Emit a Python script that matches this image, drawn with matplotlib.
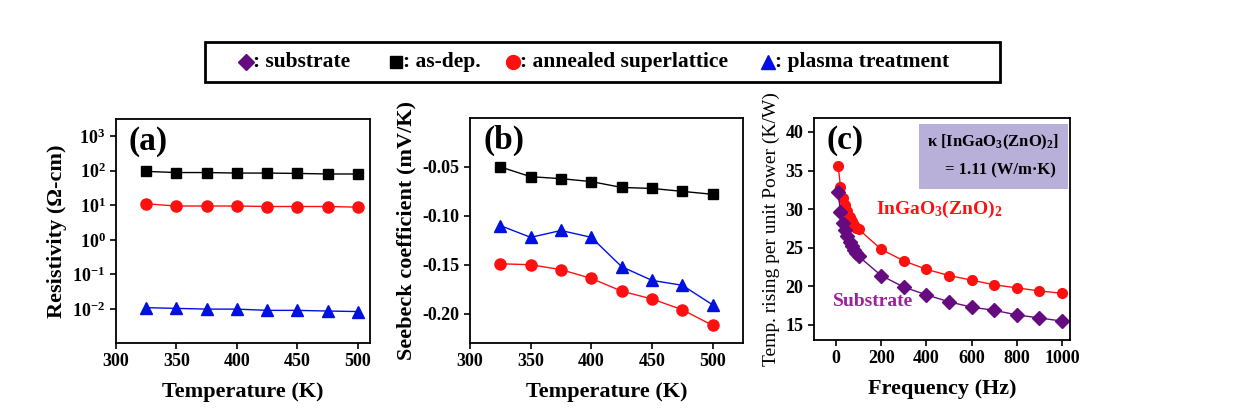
import numpy as np
import matplotlib
matplotlib.use('Agg')
import matplotlib.pyplot as plt
from matplotlib.ticker import FixedLocator, NullLocator

plt.rcParams['font.family'] = ['Liberation Serif', 'DejaVu Serif']
plt.rcParams['font.weight'] = 'bold'
plt.rcParams['mathtext.fontset'] = 'custom'
plt.rcParams['mathtext.rm'] = 'Liberation Serif:bold'
plt.rcParams['mathtext.bf'] = 'Liberation Serif:bold'
plt.rcParams['mathtext.it'] = 'Liberation Serif:bold'

# temperatures for (a) and (b)
temp = [325, 350, 375, 400, 425, 450, 475, 500]

# (a) resistivity (Ohm-cm)
res_asdep = [95, 88, 88, 85, 85, 83, 80, 80]
res_anneal = [11, 9.5, 9.5, 9.5, 9.2, 9.2, 9.2, 8.8]
res_plasma = [0.011, 0.0105, 0.0100, 0.0100, 0.0092, 0.0092, 0.0088, 0.0085]

# (b) seebeck coefficient (mV/K)
see_asdep = [-0.050, -0.060, -0.062, -0.065, -0.071, -0.072, -0.075, -0.078]
see_plasma = [-0.110, -0.122, -0.115, -0.122, -0.152, -0.166, -0.171, -0.191]
see_anneal = [-0.149, -0.150, -0.155, -0.164, -0.177, -0.185, -0.196, -0.212]

# (c) temp rising per unit power (K/W)
freq = [10, 20, 30, 40, 50, 60, 70, 80, 90, 100, 200, 300, 400, 500, 600, 700, 800, 900, 1000]
film = [35.6, 32.9, 31.4, 30.5, 29.7, 29.0, 28.4, 27.9, 27.6, 27.4,
        24.8, 23.3, 22.2, 21.4, 20.8, 20.2, 19.8, 19.4, 19.1]
substrate = [32.2, 29.6, 28.2, 27.3, 26.5, 25.8, 25.2, 24.7, 24.3, 23.9,
             21.4, 19.9, 18.9, 18.0, 17.3, 16.9, 16.3, 15.9, 15.5]

W, H = 1256, 419
fig = plt.figure(figsize=(W / 100, H / 100), dpi=100)

def box(l, r, t, b):
    return [l / W, (H - b) / H, (r - l) / W, (b - t) / H]

black = '#000000'
red = '#ff1010'
blue = '#0010e0'
purple = '#660a80'

def style(ax):
    for s in ax.spines.values():
        s.set_linewidth(1.3)
    ax.tick_params(direction='out', length=4, width=1.2, labelsize=13)
    for lab in ax.get_xticklabels() + ax.get_yticklabels():
        lab.set_fontweight('bold')

# ---- (a)
ax1 = fig.add_axes(box(116, 370, 119, 343))
ax1.plot(temp, res_asdep, '-s', color=black, ms=7, lw=1)
ax1.plot(temp, res_anneal, '-o', color=red, ms=8, lw=1)
ax1.plot(temp, res_plasma, '-^', color=blue, ms=9, lw=1)
ax1.set_yscale('log')
ax1.set_xlim(300, 510)
ax1.set_ylim(1.05e-3, 3.1e3)
ax1.set_xticks([300, 350, 400, 450, 500])
ax1.yaxis.set_major_locator(FixedLocator([1e-2, 1e-1, 1e0, 1e1, 1e2, 1e3]))
ax1.yaxis.set_minor_locator(NullLocator())
ax1.set_yticklabels(['$10^{-2}$', '$10^{-1}$', '$10^{0}$', '$10^{1}$', '$10^{2}$', '$10^{3}$'])
ax1.set_xlabel('Temperature (K)', fontsize=16, fontweight='bold', labelpad=8)
ax1.set_ylabel('Resistivity (Ω-cm)', fontsize=16, fontweight='bold', labelpad=4)
ax1.text(0.05, 0.97, '(a)', transform=ax1.transAxes, fontsize=24, fontweight='bold', va='top')
style(ax1)

# ---- (b)
ax2 = fig.add_axes(box(470, 743, 118, 343))
ax2.plot(temp, see_asdep, '-s', color=black, ms=7, lw=1)
ax2.plot(temp, see_plasma, '-^', color=blue, ms=9, lw=1)
ax2.plot(temp, see_anneal, '-o', color=red, ms=8, lw=1)
ax2.set_xlim(300, 525)
ax2.set_ylim(-0.23, 0.0)
ax2.set_xticks([300, 350, 400, 450, 500])
ax2.set_yticks([-0.20, -0.15, -0.10, -0.05])
ax2.set_yticklabels(['-0.20', '-0.15', '-0.10', '-0.05'])
ax2.set_xlabel('Temperature (K)', fontsize=16, fontweight='bold', labelpad=8)
ax2.set_ylabel('Seebeck coefficient (mV/K)', fontsize=16, fontweight='bold', labelpad=4)
ax2.text(0.05, 0.97, '(b)', transform=ax2.transAxes, fontsize=24, fontweight='bold', va='top')
style(ax2)

# ---- (c)
ax3 = fig.add_axes(box(814, 1070, 118, 340))
ax3.plot(freq, film, '-o', color=red, ms=7, lw=1)
ax3.plot(freq, substrate, '-D', color=purple, ms=7, lw=1)
ax3.set_xlim(-97, 1035)
ax3.set_ylim(13.05, 41.8)
ax3.set_xticks([0, 200, 400, 600, 800, 1000])
ax3.set_yticks([15, 20, 25, 30, 35, 40])
ax3.set_xlabel('Frequency (Hz)', fontsize=16, fontweight='bold', labelpad=8)
ax3.set_ylabel('Temp. rising per unit Power (K/W)', fontsize=14, fontweight='normal', labelpad=4)
ax3.text(0.05, 0.97, '(c)', transform=ax3.transAxes, fontsize=24, fontweight='bold', va='top')
ax3.text(175, 29.9, 'InGaO$_3$(ZnO)$_2$', color=red, fontsize=14, fontweight='bold', va='center')
ax3.text(-15, 18.0, 'Substrate', color='#a0209c', fontsize=14, fontweight='bold', va='center')
ax3.add_patch(plt.Rectangle((0.41, 0.68), 0.582, 0.293, transform=ax3.transAxes,
                            fc='#b8b0d8', ec='none', zorder=1))
ax3.text(0.70, 0.892, 'κ [InGaO$_3$(ZnO)$_2$]', transform=ax3.transAxes,
         ha='center', va='center', fontsize=12, fontweight='bold', zorder=2)
ax3.text(0.73, 0.766, '= 1.11 (W/m·K)', transform=ax3.transAxes,
         ha='center', va='center', fontsize=12, fontweight='bold', zorder=2)
style(ax3)

# ---- legend box on top
fig.patches.append(plt.Rectangle((205 / W, (H - 82) / H), 795 / W, 40 / H,
                                 transform=fig.transFigure, fill=False, lw=2, ec='black'))
ly = (H - 62) / H
items = [(246, 'D', purple, 8, ': substrate'),
         (396, 's', black, 9, ': as-dep.'),
         (513, 'o', red, 10, ': annealed superlattice'),
         (768, '^', blue, 10, ': plasma treatment')]
for x, m, c, s, t in items:
    fig.lines.append(plt.Line2D([x / W], [ly], marker=m, color=c, ms=s,
                                transform=fig.transFigure, ls='none'))
    fig.text((x + 7) / W, ly, t, fontsize=15.5, fontweight='bold', va='center', ha='left')

fig.savefig('out.png', dpi=100)
